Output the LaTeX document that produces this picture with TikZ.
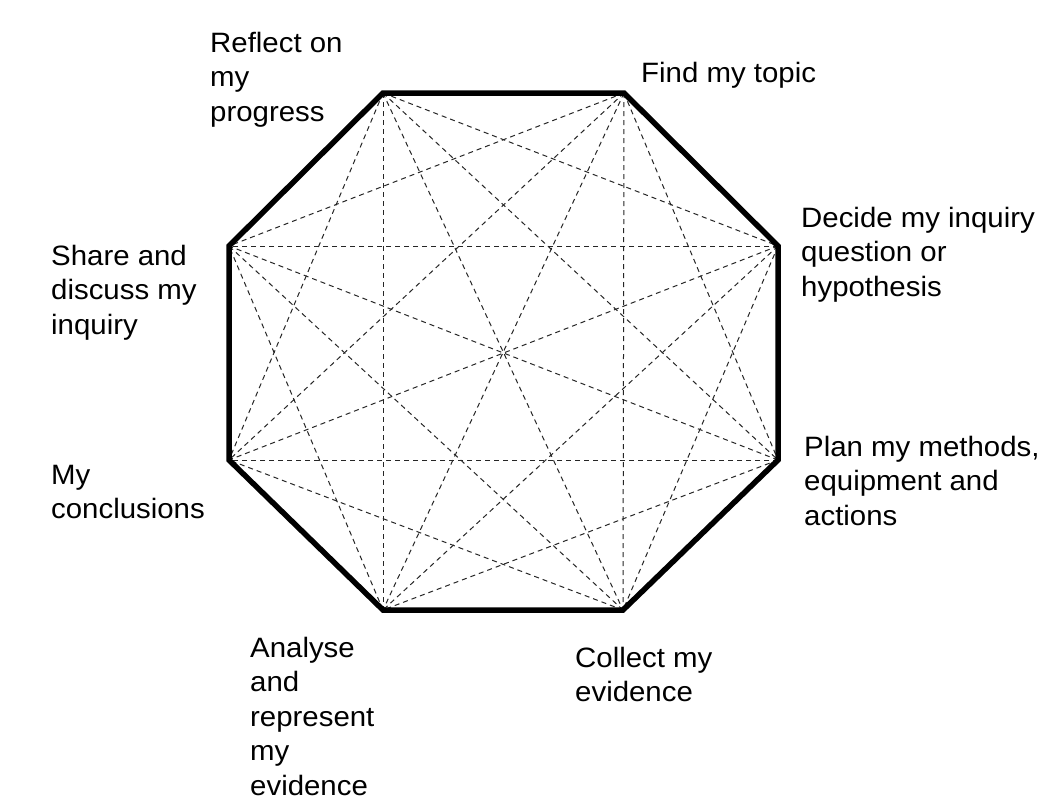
\documentclass[tikz,border=0pt]{standalone}
\usepackage{fontspec}
\setmainfont{Liberation Sans}[FakeStretch=1.05]
\begin{document}
\begin{tikzpicture}[x=1pt,y=-1pt,
  lbl/.style={anchor=base west,align=left,inner sep=0pt,font=\fontsize{28}{34.5}\selectfont},
  side/.style={line width=5.5pt,line join=miter,line cap=butt},
  diag/.style={line width=1pt,black!85,dash pattern=on 5pt off 4pt}]
\useasboundingbox[fill=white] (0,0) rectangle (1043,811);
\coordinate (v1) at (383,93);
\coordinate (v2) at (624,93);
\coordinate (v3) at (778,246);
\coordinate (v4) at (778,460);
\coordinate (v5) at (623,610);
\coordinate (v6) at (383,610);
\coordinate (v7) at (229,460);
\coordinate (v8) at (229,246);
\foreach \i in {1,...,8}{
  \foreach \j in {1,...,8}{
    \pgfmathtruncatemacro{\d}{\j-\i}
    \ifnum\d>1 \ifnum\d<7
      \draw[diag] (v\i) -- (v\j);
    \fi\fi
  }
}
\draw[side] (v1) -- (v2) -- (v3) -- (v4) -- (v5) -- (v6) -- (v7) -- (v8) -- cycle;
% anchor base = baseline of the last line
\node[lbl] (l1) at (210,121) {Reflect on\\my\\progress};
\node[lbl] (l2) at (641,82) {Find my topic};
\node[lbl] (l3) at (801,296) {Decide my inquiry\\question or\\hypothesis};
\node[lbl] (l4) at (804,525) {Plan my methods,\\equipment and\\actions};
\node[lbl] (l5) at (575,701.5) {Collect my\\evidence};
\node[lbl] (l6) at (250,795) {Analyse\\and\\represent\\my\\evidence};
\node[lbl] (l7) at (51,518.5) {My\\conclusions};
\node[lbl] (l8) at (51,334) {Share and\\discuss my\\inquiry};
\end{tikzpicture}
\end{document}
